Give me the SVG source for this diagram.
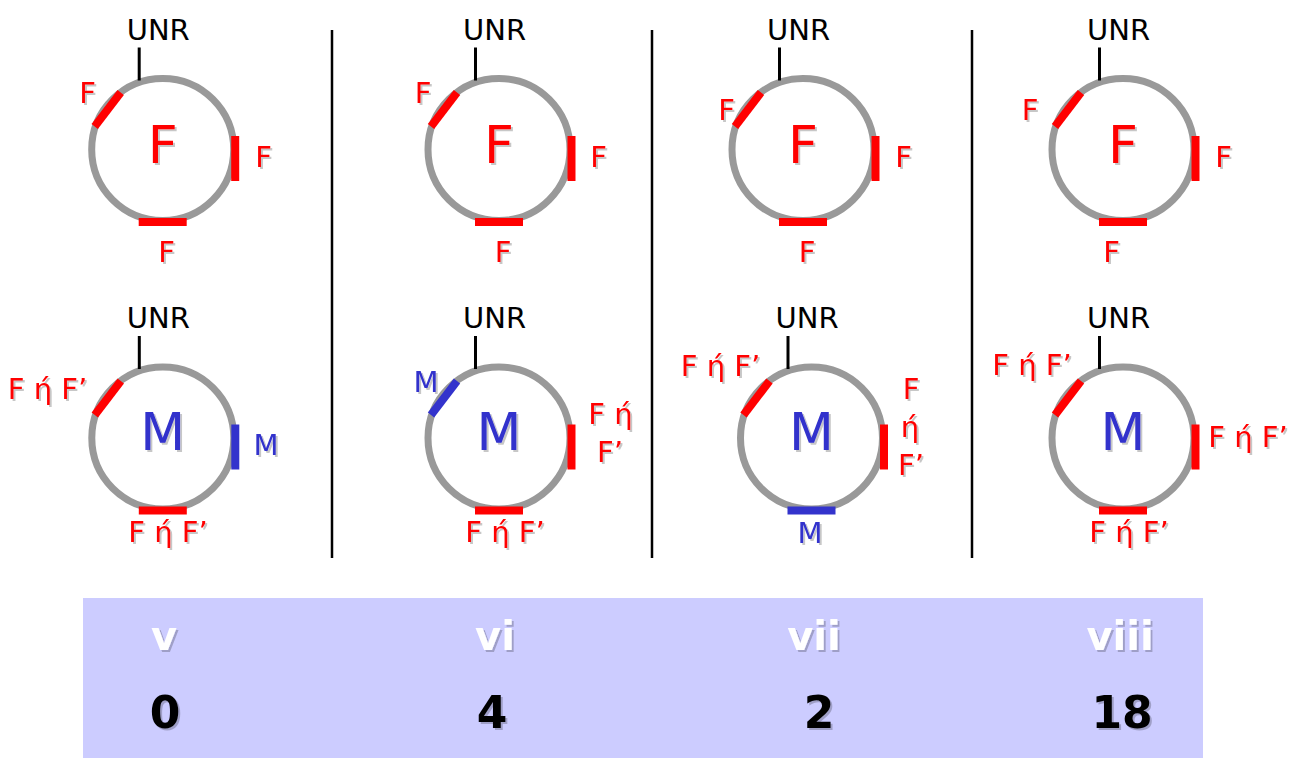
<svg xmlns="http://www.w3.org/2000/svg" width="1298" height="758" viewBox="0 0 1298 758">
  <defs>
    <filter id="shadow" x="-20%" y="-20%" width="140%" height="140%">
      <feDropShadow dx="2" dy="2" stdDeviation="0.5" flood-color="#000000" flood-opacity="0.22"/>
    </filter>
    <!-- bare plasmid ring with the UNR marker -->
    <g id="ring">
      <circle cx="0" cy="0" r="71" fill="none" stroke="#999999" stroke-width="7"/>
      <line x1="-23.5" y1="-102" x2="-23.5" y2="-69" stroke="#000" stroke-width="3"/>
      <text x="-4.5" y="-110" class="unr">UNR</text>
    </g>
  </defs>
  <style>
    text { font-family: "DejaVu Sans", "Verdana", sans-serif; text-anchor: middle; }
    .unr { font-size: 29px; fill: #000; }
    .lab { font-size: 29px; filter: url(#shadow); }
    .big { font-size: 52px; filter: url(#shadow); }
    .red { fill: #FF0000; }
    .blue { fill: #3333CC; }
    .seg { stroke-width: 8; fill: none; }
    .sr { stroke: #FF0000; }
    .sb { stroke: #3333CC; }
    .sep { stroke: #000; stroke-width: 2.5; }
    .roman { font-size: 40px; font-weight: bold; fill: #FFFFFF; filter: url(#shadow); }
    .num { font-size: 44px; font-weight: bold; fill: #000; filter: url(#shadow); }
  </style>

  <rect width="1298" height="758" fill="#FFFFFF"/>

  <!-- column separators -->
  <g id="connectors">
    <line class="sep" x1="332" y1="30" x2="332" y2="558"/>
    <line class="sep" x1="652" y1="30" x2="652" y2="558"/>
    <line class="sep" x1="972" y1="30" x2="972" y2="558"/>
  </g>

  <!-- upper row: F plasmids -->
  <g id="top-v">
    <g transform="translate(162.7,149.5)">
      <use href="#ring"/>
      <line class="seg sr" x1="-42" y1="-57" x2="-68" y2="-23"/>
      <line class="seg sr" x1="72.5" y1="-13.5" x2="72.5" y2="31.5"/>
      <line class="seg sr" x1="-24" y1="72.5" x2="24" y2="72.5"/>
      <text class="big red" x="0" y="13">F</text>
    </g>
    <text class="lab red" x="87.5" y="103">F</text>
    <text class="lab red" x="263.5" y="167">F</text>
    <text class="lab red" x="166.5" y="262">F</text>
  </g>

  <g id="top-vi">
    <g transform="translate(499,149.5)">
      <use href="#ring"/>
      <line class="seg sr" x1="-42" y1="-57" x2="-68" y2="-23"/>
      <line class="seg sr" x1="72.5" y1="-13.5" x2="72.5" y2="31.5"/>
      <line class="seg sr" x1="-24" y1="72.5" x2="24" y2="72.5"/>
      <text class="big red" x="0" y="13">F</text>
    </g>
    <text class="lab red" x="423" y="103">F</text>
    <text class="lab red" x="598.5" y="167">F</text>
    <text class="lab red" x="503" y="262">F</text>
  </g>

  <g id="top-vii">
    <g transform="translate(803,149.5)">
      <use href="#ring"/>
      <line class="seg sr" x1="-42" y1="-57" x2="-68" y2="-23"/>
      <line class="seg sr" x1="72.5" y1="-13.5" x2="72.5" y2="31.5"/>
      <line class="seg sr" x1="-24" y1="72.5" x2="24" y2="72.5"/>
      <text class="big red" x="0" y="13">F</text>
    </g>
    <text class="lab red" x="726.5" y="120">F</text>
    <text class="lab red" x="903.5" y="167">F</text>
    <text class="lab red" x="807" y="262">F</text>
  </g>

  <g id="top-viii">
    <g transform="translate(1123,149.5)">
      <use href="#ring"/>
      <line class="seg sr" x1="-42" y1="-57" x2="-68" y2="-23"/>
      <line class="seg sr" x1="72.5" y1="-13.5" x2="72.5" y2="31.5"/>
      <line class="seg sr" x1="-24" y1="72.5" x2="24" y2="72.5"/>
      <text class="big red" x="0" y="13">F</text>
    </g>
    <text class="lab red" x="1030" y="120">F</text>
    <text class="lab red" x="1223.5" y="167">F</text>
    <text class="lab red" x="1111.5" y="262">F</text>
  </g>

  <!-- lower row: M plasmids -->
  <g id="bottom-v">
    <g transform="translate(162.8,438)">
      <use href="#ring"/>
      <line class="seg sr" x1="-42" y1="-57" x2="-68" y2="-23"/>
      <line class="seg sb" x1="72.5" y1="-13.5" x2="72.5" y2="31.5"/>
      <line class="seg sr" x1="-24" y1="72.5" x2="24" y2="72.5"/>
      <text class="big blue" x="0" y="12">M</text>
    </g>
    <text class="lab red" x="47.5" y="399">F ή F’</text>
    <text class="lab blue" x="266" y="455">M</text>
    <text class="lab red" x="168" y="542">F ή F’</text>
  </g>

  <g id="bottom-vi">
    <g transform="translate(499,438)">
      <use href="#ring"/>
      <line class="seg sb" x1="-42" y1="-57" x2="-68" y2="-23"/>
      <line class="seg sr" x1="72.5" y1="-13.5" x2="72.5" y2="31.5"/>
      <line class="seg sr" x1="-24" y1="72.5" x2="24" y2="72.5"/>
      <text class="big blue" x="0" y="12">M</text>
    </g>
    <text class="lab blue" x="426" y="392">M</text>
    <text class="lab red" x="610.5" y="424">F ή</text>
    <text class="lab red" x="610" y="462">F’</text>
    <text class="lab red" x="505" y="542">F ή F’</text>
  </g>

  <g id="bottom-vii">
    <g transform="translate(811.5,438)">
      <use href="#ring"/>
      <line class="seg sr" x1="-42" y1="-57" x2="-68" y2="-23"/>
      <line class="seg sr" x1="72.5" y1="-13.5" x2="72.5" y2="31.5"/>
      <line class="seg sb" x1="-24" y1="72.5" x2="24" y2="72.5"/>
      <text class="big blue" x="0" y="12">M</text>
    </g>
    <text class="lab red" x="720.5" y="376">F ή F’</text>
    <text class="lab red" x="911" y="399">F</text>
    <text class="lab red" x="910" y="437">ή</text>
    <text class="lab red" x="911" y="475">F’</text>
    <text class="lab blue" x="810" y="543">M</text>
  </g>

  <g id="bottom-viii">
    <g transform="translate(1123,438)">
      <use href="#ring"/>
      <line class="seg sr" x1="-42" y1="-57" x2="-68" y2="-23"/>
      <line class="seg sr" x1="72.5" y1="-13.5" x2="72.5" y2="31.5"/>
      <line class="seg sr" x1="-24" y1="72.5" x2="24" y2="72.5"/>
      <text class="big blue" x="0" y="12">M</text>
    </g>
    <text class="lab red" x="1032" y="375">F ή F’</text>
    <text class="lab red" x="1248" y="447">F ή F’</text>
    <text class="lab red" x="1129" y="542">F ή F’</text>
  </g>

  <!-- summary table -->
  <g id="table">
    <rect x="83" y="598" width="1120" height="160" fill="#CCCCFF"/>
    <text class="roman" x="164" y="650">v</text>
    <text class="roman" x="495" y="650">vi</text>
    <text class="roman" x="814" y="650">vii</text>
    <text class="roman" x="1120" y="650">viii</text>
    <text class="num" x="165" y="728">0</text>
    <text class="num" x="492" y="728">4</text>
    <text class="num" x="819" y="728">2</text>
    <text class="num" x="1122" y="728">18</text>
  </g>
</svg>
